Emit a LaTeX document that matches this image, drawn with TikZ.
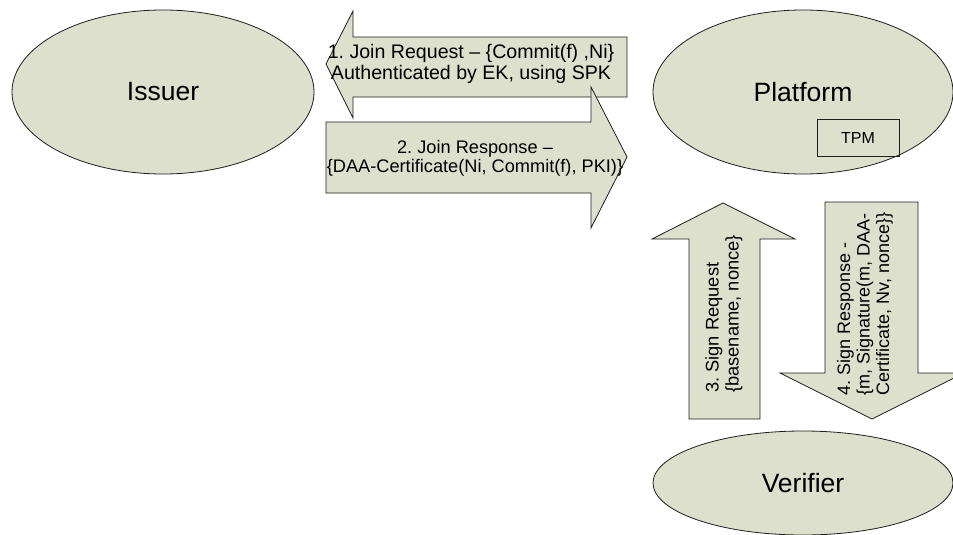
\documentclass[tikz,border=0pt]{standalone}
\usepackage{fontspec}
\setmainfont{Liberation Sans}
\usetikzlibrary{shapes.geometric}
\definecolor{olivefill}{RGB}{221,224,204}
\definecolor{edgecol}{RGB}{30,30,30}
\begin{document}
\frenchspacing
\begin{tikzpicture}[x=1pt,y=-1pt,
  entity/.style={ellipse, draw=edgecol, fill=olivefill, line width=0.8pt, inner sep=0pt, font=\fontsize{26.5}{30}\selectfont},
  blockarrow/.style={draw=edgecol, fill=olivefill, line width=0.8pt, line join=miter},
  lbl/.style={font=\fontsize{18}{21}\selectfont, align=center, inner sep=0pt},
  rlbl/.style={font=\fontsize{18}{19.5}\selectfont, align=left, inner sep=0pt, rotate=90}]
\useasboundingbox (0,0) rectangle (953,535);
\clip (0,0) rectangle (953,535);
% entities
\node[entity, minimum width=302, minimum height=164] (issuer) at (163,92) {Issuer};
\node[entity, minimum width=300, minimum height=164] (platform) at (803,92) {Platform};
\node[draw=edgecol, line width=0.8pt, minimum width=82, minimum height=37, inner sep=0pt, font=\fontsize{16}{18}\selectfont] (tpm) at (858,137.5) {TPM};
\node[entity, minimum width=300, minimum height=104] (verifier) at (803,483) {Verifier};
% arrow 1: join request (points left)
\draw[blockarrow] (326,64) -- (353,11) -- (353,37) -- (627,37) -- (627,97) -- (353,97) -- (353,118) -- cycle;
\node[lbl, font=\fontsize{19.6}{21.7}\selectfont] (joinreq) at (471,64) {1. Join Request -- \{Commit(f) ,Ni\}\\Authenticated by EK, using SPK};
% arrow 2: join response (points right)
\draw[blockarrow] (326,122) -- (591,122) -- (591,87) -- (627,157) -- (591,228) -- (591,193) -- (326,193) -- cycle;
\node[lbl, font=\fontsize{18.2}{19}\selectfont] (joinresp) at (475,158) {2. Join Response --\\\{DAA-Certificate(Ni, Commit(f), PKI)\}};
% arrow 3: sign request (points up)
\draw[blockarrow] (723,203) -- (795,239) -- (760,239) -- (760,419) -- (689,419) -- (689,239) -- (652,239) -- cycle;
\node[rlbl, font=\fontsize{18.3}{20}\selectfont] (signreq) at (724,314) {3. Sign Request\\\{basename, nonce\}};
% arrow 4: sign response (points down)
\draw[blockarrow] (825,202) -- (918,202) -- (918,373) -- (964,373) -- (872,419) -- (780,373) -- (825,373) -- cycle;
\node[rlbl] (signresp) at (865,304) {4. Sign Response -\\\{m, Signature(m, DAA-\\Certificate, Nv, nonce\}\}};
\end{tikzpicture}
\end{document}
